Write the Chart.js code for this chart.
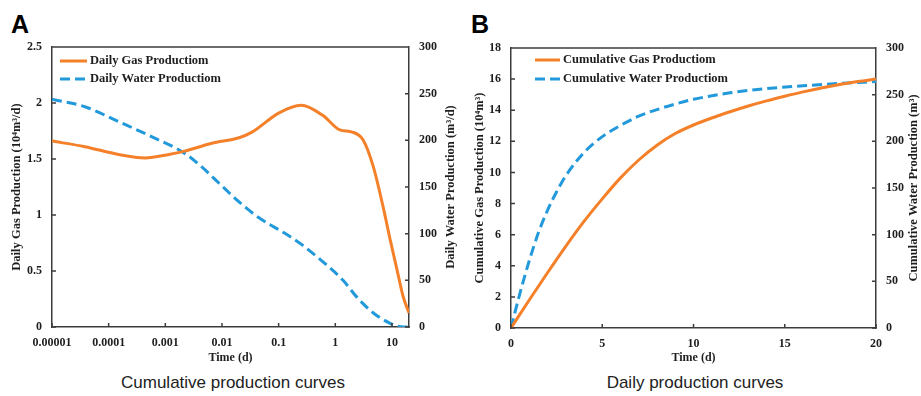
<!DOCTYPE html>
<html>
<head>
<meta charset="utf-8">
<script src="https://cdn.jsdelivr.net/npm/chart.js@4.4.1/dist/chart.umd.min.js"></script>
<style>
  body { margin: 0; background: #fff; width: 921px; height: 396px; position: relative; overflow: hidden; }
  .panel { position: absolute; top: 0; }
  .tag { position: absolute; top: 12px; font: bold 25px "Liberation Sans", Arial, sans-serif; line-height: 25px; color: #000; }
  .cap { position: absolute; top: 373px; font: 17px "Liberation Sans", Arial, sans-serif; line-height: 20px; color: #222; text-align: center; }
</style>
</head>
<body>
<div class="tag" style="left:11px">A</div>
<div class="tag" style="left:471px">B</div>
<canvas id="chartA" class="panel" style="left:0" width="460" height="370"></canvas>
<canvas id="chartB" class="panel" style="left:460px" width="461" height="370"></canvas>
<div class="cap" style="left:0;width:466px">Cumulative production curves</div>
<div class="cap" style="left:460px;width:470px">Daily production curves</div>

<script>
  // Panel A: daily rates against log time
  var timeGasA = [0.00001, 0.000038, 0.00015, 0.00044, 0.00115, 0.0022, 0.0066, 0.02, 0.034, 0.1, 0.25, 0.6, 1.2, 2.0, 3.1, 4.7, 7, 9.3, 12.3, 15.8, 20];
  var gasDailyA = [1.66, 1.61, 1.54, 1.51, 1.54, 1.57, 1.64, 1.69, 1.74, 1.91, 1.98, 1.89, 1.76, 1.74, 1.67, 1.43, 1.07, 0.78, 0.51, 0.27, 0.125];
  var timeWaterA = [0.00001, 0.000038, 0.00015, 0.00057, 0.0022, 0.0045, 0.0089, 0.02, 0.045, 0.14, 0.26, 0.6, 1.37, 2.4, 4.7, 9.3, 16, 20];
  var waterDailyA = [244, 236, 220, 204, 186, 171, 154, 134, 117, 99, 88, 70, 50, 32, 15, 4, 0, 0];
  var timeTicksA = [0.00001, 0.0001, 0.001, 0.01, 0.1, 1, 10];
  var gasTicksA = [0, 0.5, 1, 1.5, 2, 2.5];
  var waterTicksA = [0, 50, 100, 150, 200, 250, 300];

  // Panel B: cumulative volumes against time
  var timeGasB = [0, 1, 2, 3, 4, 5, 6, 7, 8, 9, 10, 11, 12, 13, 14, 15, 16, 17, 18, 19, 20];
  var gasCumB = [0, 1.8, 3.55, 5.25, 6.85, 8.3, 9.65, 10.8, 11.75, 12.5, 13.05, 13.5, 13.9, 14.27, 14.6, 14.9, 15.18, 15.43, 15.65, 15.84, 16.0];
  var timeWaterB = [0, 0.5, 1, 1.5, 2, 2.5, 3, 4, 5, 6, 7, 8, 9, 10, 12, 14, 16, 18, 20];
  var waterCumB = [0, 38, 72, 102, 126, 146, 163, 188, 205, 217, 227, 234, 240, 245, 252, 256.5, 259.5, 262, 264];
  var timeTicksB = [0, 5, 10, 15, 20];
  var gasTicksB = [0, 2, 4, 6, 8, 10, 12, 14, 16, 18];
  var waterTicksB = [0, 50, 100, 150, 200, 250, 300];

  var orange = '#f5802a';
  var blue = '#2299da';
  var axisColor = '#3c3c3c';
  var textColor = '#1e1e1e';
  var tickFont = { family: '"Liberation Serif", "Times New Roman", serif', size: 12, weight: 'bold' };
  var titleFont = { family: '"Liberation Serif", "Times New Roman", serif', size: 12.5, weight: 'bold' };

  function pts(xs, ys) {
    return xs.map(function (x, i) { return { x: x, y: ys[i] }; });
  }
  function fixedTicks(list) {
    return function (s) { s.ticks = list.map(function (v) { return { value: v }; }); };
  }

  // box frame, inward tick marks, right axis title and the legend inside the plot
  var paperDecor = {
    id: 'paperDecor',
    afterDraw: function (chart, args, opts) {
      var ctx = chart.ctx, a = chart.chartArea;
      ctx.save();
      ctx.strokeStyle = axisColor;
      ctx.lineWidth = 1.5;
      ctx.beginPath();
      ctx.moveTo(a.left, a.top);
      ctx.lineTo(a.right, a.top);
      Object.values(chart.scales).forEach(function (s) {
        s.ticks.forEach(function (t) {
          var p = s.getPixelForValue(t.value);
          if (s.position === 'bottom') { ctx.moveTo(p, s.top); ctx.lineTo(p, s.top - 4); }
          else if (s.position === 'left') { ctx.moveTo(s.right, p); ctx.lineTo(s.right + 4, p); }
          else { ctx.moveTo(s.left, p); ctx.lineTo(s.left - 4, p); }
        });
      });
      ctx.stroke();

      ctx.fillStyle = textColor;
      ctx.font = 'bold 12.5px "Liberation Serif", "Times New Roman", serif';
      ctx.textAlign = 'center';
      ctx.textBaseline = 'middle';
      ctx.save();
      ctx.translate(opts.rightTitleX, (a.top + a.bottom) / 2);
      ctx.rotate(-Math.PI / 2);
      ctx.fillText(opts.rightTitle, 0, 0);
      ctx.restore();

      ctx.textAlign = 'left';
      chart.data.datasets.forEach(function (ds, i) {
        var y = opts.legendY[i];
        ctx.strokeStyle = ds.borderColor;
        ctx.lineWidth = ds.borderWidth;
        ctx.setLineDash(ds.borderDash || []);
        ctx.beginPath();
        ctx.moveTo(opts.legendX, y);
        ctx.lineTo(opts.legendX + opts.legendLen, y);
        ctx.stroke();
        ctx.setLineDash([]);
        ctx.fillText(ds.label, opts.legendX + opts.legendLen + 3, y);
      });
      ctx.restore();
    }
  };

  function yScale(pos, min, max, list, width, title, titlePad) {
    return {
      position: pos, min: min, max: max,
      afterBuildTicks: fixedTicks(list),
      afterFit: function (s) { s.width = width; },
      grid: { display: false, drawTicks: false },
      border: { color: axisColor, width: 1.5 },
      ticks: { font: tickFont, color: textColor, padding: 10, callback: function (v) { return String(v); } },
      title: { display: !!title, text: title, font: titleFont, color: textColor, padding: { top: titlePad, bottom: 0 } }
    };
  }

  function xScale(type, min, max, list, height) {
    return {
      type: type, min: min, max: max,
      afterBuildTicks: fixedTicks(list),
      afterFit: function (s) { s.height = height; },
      grid: { display: false, drawTicks: false },
      border: { color: axisColor, width: 1.5 },
      ticks: { font: tickFont, color: textColor, padding: 9, maxRotation: 0, autoSkip: false,
               callback: function (v) { return String(v); } },
      title: { display: true, text: 'Time (d)', font: tickFont, color: textColor, padding: { top: 0, bottom: 5 } }
    };
  }

  var lineCommon = { borderWidth: 3, pointRadius: 0, tension: 0.4, cubicInterpolationMode: 'monotone', fill: false };

  var chartA = new Chart(document.getElementById('chartA'), {
    type: 'line',
    data: {
      datasets: [
        Object.assign({ label: 'Daily Gas Productiom', data: pts(timeGasA, gasDailyA), borderColor: orange, yAxisID: 'yGas' }, lineCommon),
        Object.assign({ label: 'Daily Water Productiom', data: pts(timeWaterA, waterDailyA), borderColor: blue, borderDash: [10, 5], yAxisID: 'yWater' }, lineCommon)
      ]
    },
    options: {
      responsive: false,
      animation: false,
      layout: { padding: { top: 47, left: 0, right: 0, bottom: 0 } },
      scales: {
        x: xScale('logarithmic', 0.00001, 20, timeTicksA, 43),
        yGas: yScale('left', 0, 2.5, gasTicksA, 52, 'Daily Gas Production (10\u2074m\u00b3/d)', 9.5),
        yWater: yScale('right', 0, 300, waterTicksA, 51, '', 0)
      },
      plugins: {
        legend: { display: false },
        tooltip: { enabled: false },
        paperDecor: { rightTitle: 'Daily Water Production (m\u00b3/d)', rightTitleX: 451,
                      legendX: 60, legendLen: 27, legendY: [61, 79] }
      }
    },
    plugins: [paperDecor]
  });

  var chartB = new Chart(document.getElementById('chartB'), {
    type: 'line',
    data: {
      datasets: [
        Object.assign({ label: 'Cumulative Gas Productiom', data: pts(timeGasB, gasCumB), borderColor: orange, yAxisID: 'yGas' }, lineCommon),
        Object.assign({ label: 'Cumulative Water Productiom', data: pts(timeWaterB, waterCumB), borderColor: blue, borderDash: [10, 5], yAxisID: 'yWater' }, lineCommon)
      ]
    },
    options: {
      responsive: false,
      animation: false,
      layout: { padding: { top: 48, left: 0, right: 0, bottom: 0 } },
      scales: {
        x: xScale('linear', 0, 20, timeTicksB, 42),
        yGas: yScale('left', 0, 18, gasTicksB, 51, 'Cumulative Gas Production (10\u2074m\u00b3)', 12.5),
        yWater: yScale('right', 0, 300, waterTicksB, 45, '', 0)
      },
      plugins: {
        legend: { display: false },
        tooltip: { enabled: false },
        paperDecor: { rightTitle: 'Cumulative Water Production (m\u00b3)', rightTitleX: 454,
                      legendX: 75, legendLen: 25, legendY: [60, 79] }
      }
    },
    plugins: [paperDecor]
  });
</script>
</body>
</html>
